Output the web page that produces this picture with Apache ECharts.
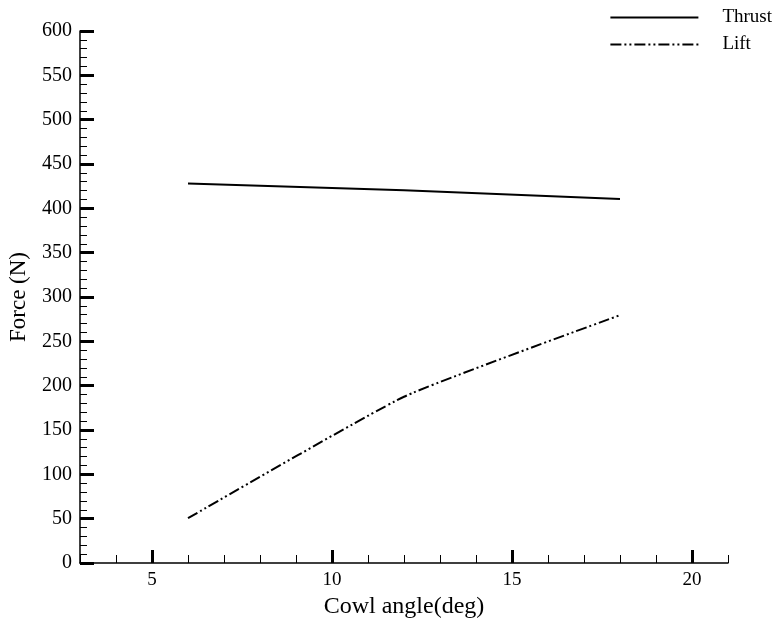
<!DOCTYPE html>
<html>
<head>
<meta charset="utf-8">
<script src="https://cdn.jsdelivr.net/npm/echarts@6/dist/echarts.min.js"></script>
<style>
  html, body { margin: 0; padding: 0; background: #fff; }
  #chart { width: 777px; height: 618px; }
</style>
</head>
<body>
<div id="chart"></div>
<script>
// Cowl angle (deg) sample points
const cowlAngle = [6, 12, 18];
// Forces (N)
const thrust = [428, 420.5, 410.5];
const lift = [50.5, 187.5, 279.5];
// Labelled x ticks
const xMajorTicks = [5, 10, 15, 20];

const serif = '"Liberation Serif", "DejaVu Serif", serif';

const chart = echarts.init(document.getElementById('chart'), null, { renderer: 'canvas' });

const pairs = (xs, ys) => xs.map((x, i) => [x, ys[i]]);

chart.setOption({
  animation: false,
  backgroundColor: '#ffffff',
  grid: { left: 80, right: 49, top: 31, bottom: 55, containLabel: false, outerBoundsMode: 'none' },
  legend: {
    orient: 'vertical',
    right: 0,
    top: 3,
    align: 'left',
    itemWidth: 88,
    itemHeight: 14,
    itemGap: 8,
    itemStyle: { opacity: 0 },
    textStyle: { fontFamily: serif, fontSize: 19, lineHeight: 19, color: '#000', padding: [0, 0, 0, 19] },
    data: ['Thrust', 'Lift']
  },
  xAxis: [
    {
      type: 'value',
      min: 3, max: 21, interval: 1,
      name: 'Cowl angle(deg)',
      nameLocation: 'middle',
      nameGap: 22,
      nameTextStyle: { fontFamily: serif, fontSize: 24, color: '#000' },
      axisLine: { show: true, onZero: false, lineStyle: { color: '#000', width: 1.5 } },
      axisTick: { show: true, inside: true, length: 8, lineStyle: { color: '#000', width: 1 } },
      axisLabel: {
        customValues: xMajorTicks,
        margin: 8,
        fontFamily: serif, fontSize: 19, color: '#000'
      },
      splitLine: { show: false }
    },
    {
      type: 'value',
      min: 3, max: 21, interval: 1,
      position: 'bottom',
      axisLine: { show: false, onZero: false },
      axisTick: { show: true, inside: true, length: 13, customValues: xMajorTicks, lineStyle: { color: '#000', width: 3 } },
      axisLabel: { show: false },
      splitLine: { show: false }
    }
  ],
  yAxis: {
    type: 'value',
    min: 0, max: 600, interval: 50,
    name: 'Force (N)',
    nameLocation: 'middle',
    nameGap: 50,
    nameRotate: 90,
    nameTextStyle: { fontFamily: serif, fontSize: 23, color: '#000' },
    axisLine: { show: true, onZero: false, lineStyle: { color: '#000', width: 1.5 } },
    axisTick: { show: true, inside: true, length: 14, lineStyle: { color: '#000', width: 3 } },
    minorTick: { show: true, splitNumber: 5, length: 7, lineStyle: { color: '#000', width: 1 } },
    axisLabel: { margin: 8, fontFamily: serif, fontSize: 20, color: '#000' },
    splitLine: { show: false },
    minorSplitLine: { show: false }
  },
  series: [
    {
      name: 'Thrust',
      type: 'line',
      xAxisIndex: 0,
      data: pairs(cowlAngle, thrust),
      symbol: 'none',
      smooth: false,
      lineStyle: { color: '#000', width: 2, type: 'solid' },
      itemStyle: { color: '#000' }
    },
    {
      name: 'Lift',
      type: 'line',
      xAxisIndex: 0,
      data: pairs(cowlAngle, lift),
      symbol: 'none',
      smooth: 0.15,
      lineStyle: { color: '#000', width: 2, type: [11, 3, 2, 3, 2, 3] },
      itemStyle: { color: '#000' }
    }
  ]
});
</script>
</body>
</html>
